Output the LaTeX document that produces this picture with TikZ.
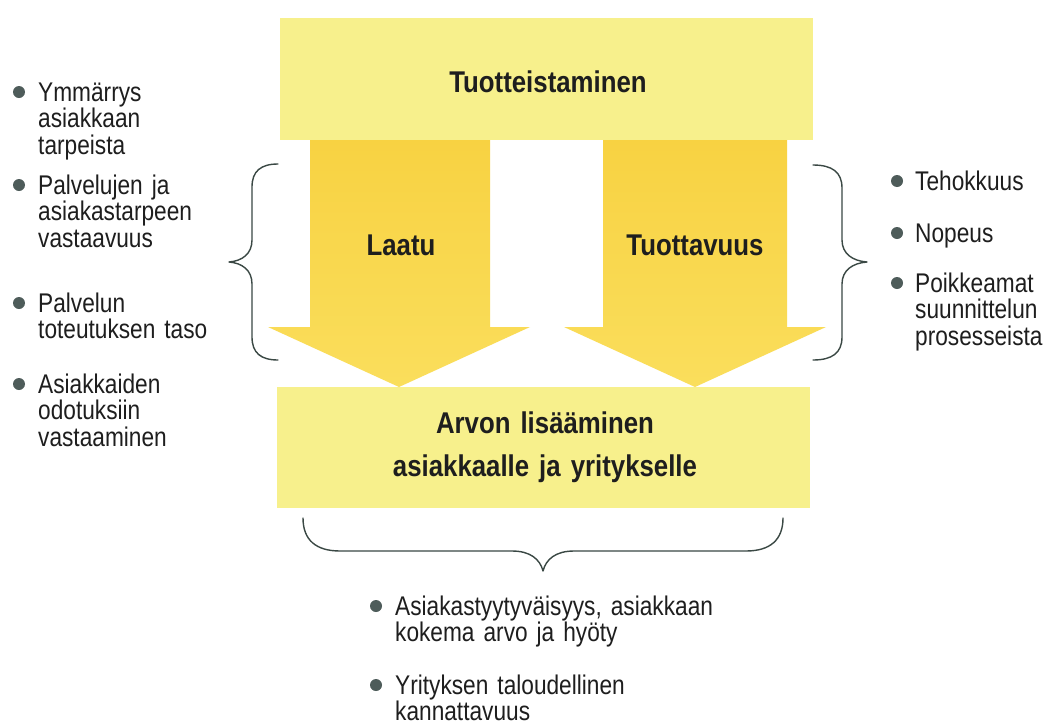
\documentclass[tikz,border=0pt]{standalone}
\usepackage{fontspec}
\setmainfont{Liberation Sans}[FakeStretch=0.84]
\newfontfamily\headfont{Liberation Sans}[FakeStretch=0.86]

\definecolor{boxyellow}{RGB}{247,240,140}
\definecolor{arrowtop}{RGB}{248,210,66}
\definecolor{arrowbot}{RGB}{250,222,92}
\definecolor{bracecol}{RGB}{58,72,68}
\definecolor{dotcol}{RGB}{78,92,90}
\definecolor{txt}{RGB}{30,30,30}

\begin{document}
\begin{tikzpicture}[x=1pt,y=-1pt,
  panel/.style={rectangle, fill=boxyellow, draw=none, inner sep=0},
  blockarrow/.style={top color=arrowtop, bottom color=arrowbot, draw=none},
  heading/.style={font=\headfont\bfseries\fontsize{30}{43}\selectfont, text=txt, inner sep=0, anchor=base, text width=420pt, align=center},
  item/.style={font=\fontsize{27}{26.5}\selectfont, text=txt, inner sep=0, anchor=base west, text width=330pt, align=left},
  dot/.style={circle, fill=dotcol, minimum size=12pt, inner sep=0},
  curly/.style={draw=bracecol, line width=1.4pt, line cap=round, line join=round}
]
% canvas
\fill[white] (0,0) rectangle (1047,726);
\useasboundingbox (0,0) rectangle (1047,726);

% top and bottom panels
\node[panel, minimum width=533pt, minimum height=122pt] (top) at (546.5,79) {};
\node[panel, minimum width=533pt, minimum height=121pt] (bottom) at (543.5,447.5) {};

% block arrows between the panels
\coordinate (qtip) at (399,387);
\coordinate (ptip) at (695,387);
\shade[blockarrow] (310,140) -- (490,140) -- (490,327) -- (530,327) -- (qtip)
  -- (268,327) -- (310,327) -- cycle;
\shade[blockarrow] (603,140) -- (787,140) -- (787,327) -- (826,327) -- (ptip)
  -- (564,327) -- (603,327) -- cycle;

% panel and arrow labels
\node[heading] (toplabel) at (548,92) {Tuotteistaminen};
\node[heading] (quality) at (401,255) {Laatu};
\node[heading] (productivity) at (695,255) {Tuottavuus};
\node[heading] (value) at (545,433) {Arvon lisääminen\\asiakkaalle ja yritykselle};

% braces
\coordinate (lbT) at (278,164);
\coordinate (lbB) at (278,360);
\coordinate (lbtip) at (229,262);
\draw[curly] (lbT) .. controls (261,164) and (252,171) .. (252,187) -- (252,240)
  .. controls (252,254) and (242,261) .. (lbtip)
  .. controls (242,263) and (252,270) .. (252,284) -- (252,337)
  .. controls (252,353) and (261,360) .. (lbB);

\coordinate (rbT) at (813,165);
\coordinate (rbB) at (813,360);
\coordinate (rbtip) at (867,262);
\draw[curly] (rbT) .. controls (832,165) and (842,172) .. (842,188) -- (842,240)
  .. controls (842,254) and (853,261) .. (rbtip)
  .. controls (853,263) and (842,270) .. (842,284) -- (842,337)
  .. controls (842,353) and (832,360) .. (rbB);

\coordinate (bbL) at (303,518);
\coordinate (bbR) at (783,518);
\coordinate (bbtip) at (543,571);
\draw[curly] (bbL) .. controls (303,540) and (316,551) .. (340,551) -- (512,551)
  .. controls (530,551) and (540,559) .. (bbtip)
  .. controls (546,559) and (556,551) .. (574,551) -- (746,551)
  .. controls (770,551) and (783,540) .. (bbR);

% left list
\node[item] (l1) at (38,101) {Ymmärrys\\asiakkaan\\tarpeista};
\node[item] (l2) at (38,194) {Palvelujen ja\\asiakastarpeen\\vastaavuus};
\node[item] (l3) at (38,312) {Palvelun\\toteutuksen taso};
\node[item] (l4) at (38,393) {Asiakkaiden\\odotuksiin\\vastaaminen};
\node[dot] (dl1) at (19,92) {};
\node[dot] (dl2) at (19,185) {};
\node[dot] (dl3) at (19,303) {};
\node[dot] (dl4) at (19,384) {};

% right list
\node[item] (r1) at (915,190) {Tehokkuus};
\node[item] (r2) at (915,242) {Nopeus};
\node[item] (r3) at (915,292) {Poikkeamat\\suunnittelun\\prosesseista};
\node[dot] (dr1) at (897,181) {};
\node[dot] (dr2) at (897,233) {};
\node[dot] (dr3) at (897,283) {};

% bottom list
\node[item] (b1) at (395,615) {Asiakastyytyväisyys, asiakkaan\\kokema arvo ja hyöty};
\node[item] (b2) at (395,694) {Yrityksen taloudellinen\\kannattavuus};
\node[dot] (db1) at (376,606) {};
\node[dot] (db2) at (376,685) {};
\end{tikzpicture}
\end{document}
